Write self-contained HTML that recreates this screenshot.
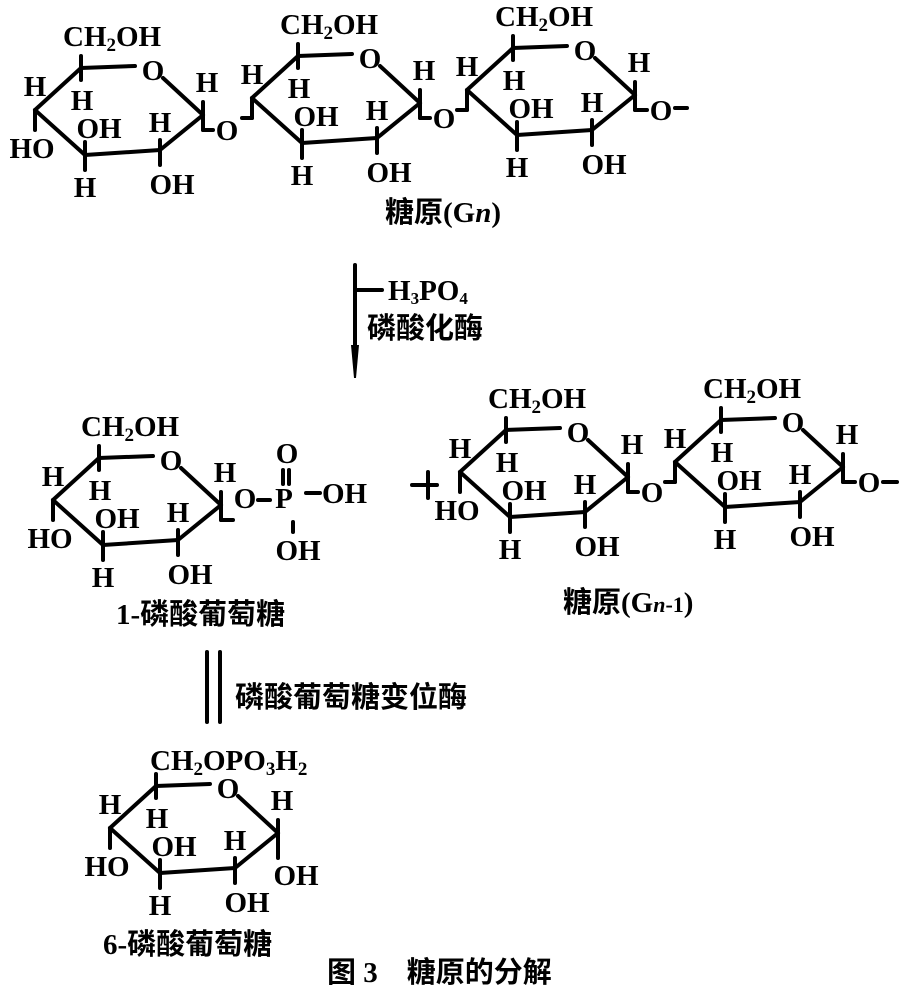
<!DOCTYPE html>
<html><head><meta charset="utf-8"><style>
html,body{margin:0;padding:0;background:#fff}
svg{display:block}
text{font-family:"Liberation Serif","Noto Serif CJK SC",serif;font-size:29px;font-weight:bold;fill:#000}
.c{font-family:"Liberation Serif","Noto Sans CJK SC",sans-serif}
line{stroke:#000;stroke-width:4;stroke-linecap:round}
</style></head><body>
<svg width="900" height="986" viewBox="0 0 900 986" xmlns="http://www.w3.org/2000/svg">
<defs>
<g id="ring">
<line x1="0" y1="0" x2="46" y2="-42"/>
<line x1="46" y1="-42" x2="100" y2="-44"/>
<text x="118" y="-30" text-anchor="middle">O</text>
<line x1="128" y1="-32" x2="168" y2="5"/>
<line x1="168" y1="5" x2="125" y2="40"/>
<line x1="125" y1="40" x2="50" y2="45"/>
<line x1="50" y1="45" x2="0" y2="0"/>
<line x1="46" y1="-54" x2="46" y2="-30"/>
<text x="47" y="0" text-anchor="middle">H</text>
<text x="0" y="-14" text-anchor="middle">H</text>
<line x1="0" y1="0" x2="0" y2="20"/>
<line x1="50" y1="32" x2="50" y2="60"/>
<text x="64" y="28" text-anchor="middle">OH</text>
<text x="50" y="87" text-anchor="middle">H</text>
<line x1="125" y1="30" x2="125" y2="55"/>
<text x="125" y="22" text-anchor="middle">H</text>
<text x="137" y="84" text-anchor="middle">OH</text>
<line x1="168" y1="-8" x2="168" y2="20"/>
<text x="172" y="-18" text-anchor="middle">H</text>
</g>
<g id="ho"><text x="-3" y="48" text-anchor="middle">HO</text></g>
<g id="lk"><line x1="0" y1="20" x2="-10" y2="20"/></g>
<g id="glyc">
<line x1="168" y1="20" x2="178" y2="20"/>
<text x="192" y="30" text-anchor="middle">O</text>
</g>
<g id="ch">
<text x="28" y="-64">CH<tspan font-size="19" dy="5">2</tspan><tspan dy="-5">OH</tspan></text>
</g>
</defs>

<!-- top row -->
<g transform="translate(35,110)"><use href="#ring"/><use href="#ho"/><use href="#glyc"/><use href="#ch"/></g>
<g transform="translate(252,98)"><use href="#ring"/><use href="#lk"/><use href="#glyc"/><use href="#ch"/></g>
<g transform="translate(467,90)"><use href="#ring"/><use href="#lk"/><use href="#ch"/>
<line x1="168" y1="20" x2="180" y2="20"/><text x="194" y="30" text-anchor="middle">O</text><line x1="208" y1="18" x2="220" y2="18"/></g>
<text class="c" x="385" y="222" font-size="27">糖原(G<tspan font-style="italic">n</tspan>)</text>

<!-- arrow -->
<line x1="355" y1="265" x2="355" y2="350" stroke-width="3"/>
<polygon points="351,345 359,345 356,378 354,378" fill="#000"/>
<line x1="355" y1="290" x2="382" y2="290" stroke-width="3"/>
<text x="388" y="300" font-weight="normal" font-size="26">H<tspan font-size="17" dy="4">3</tspan><tspan dy="-4">PO</tspan><tspan font-size="17" dy="4">4</tspan></text>
<text class="c" x="367" y="338" font-size="27">磷酸化酶</text>

<!-- 1-phosphate glucose -->
<g transform="translate(53,500)"><use href="#ring"/><use href="#ho"/><use href="#ch"/>
<line x1="168" y1="20" x2="180" y2="20"/></g>
<text x="245" y="508" text-anchor="middle">O</text>
<line x1="258" y1="500" x2="270" y2="500" stroke-width="3"/>
<text x="284" y="508" text-anchor="middle">P</text>
<line x1="283" y1="470" x2="283" y2="484" stroke-width="3"/>
<line x1="289" y1="470" x2="289" y2="484" stroke-width="3"/>
<text x="287" y="463" text-anchor="middle">O</text>
<line x1="306" y1="493" x2="320" y2="493" stroke-width="3"/>
<text x="322" y="503">OH</text>
<line x1="293" y1="522" x2="293" y2="532" stroke-width="3"/>
<text x="298" y="560" text-anchor="middle">OH</text>
<text class="c" x="116" y="624" font-size="28">1-磷酸葡萄糖</text>

<!-- plus -->
<line x1="412" y1="485" x2="437" y2="485"/>
<line x1="428" y1="472" x2="428" y2="498"/>

<!-- Gn-1 -->
<g transform="translate(460,472)"><use href="#ring"/><use href="#ho"/><use href="#glyc"/><use href="#ch"/></g>
<g transform="translate(675,462)"><use href="#ring"/><use href="#lk"/><use href="#ch"/>
<line x1="168" y1="20" x2="180" y2="20"/><text x="194" y="30" text-anchor="middle">O</text><line x1="208" y1="20" x2="222" y2="20"/></g>
<text class="c" x="563" y="612" font-size="27">糖原(G<tspan font-style="italic" font-size="22">n</tspan><tspan font-size="22">-1</tspan>)</text>

<!-- equilibrium -->
<line x1="207" y1="652" x2="207" y2="722" stroke-width="3.5"/>
<line x1="220" y1="652" x2="220" y2="722" stroke-width="3.5"/>
<text class="c" x="235" y="707" font-size="28">磷酸葡萄糖变位酶</text>

<!-- 6-phosphate -->
<g transform="translate(110,828)"><use href="#ring"/><use href="#ho"/>
<line x1="168" y1="20" x2="168" y2="30"/>
<text x="186" y="57" text-anchor="middle">OH</text></g>
<text x="150" y="770" font-weight="normal">CH<tspan font-size="19" dy="5">2</tspan><tspan dy="-5">OPO</tspan><tspan font-size="19" dy="5">3</tspan><tspan dy="-5">H</tspan><tspan font-size="19" dy="5">2</tspan></text>
<text class="c" x="103" y="954" font-size="28">6-磷酸葡萄糖</text>

<text class="c" x="327" y="982" font-size="28" font-weight="normal">图 3　糖原的分解</text>
</svg>
</body></html>
